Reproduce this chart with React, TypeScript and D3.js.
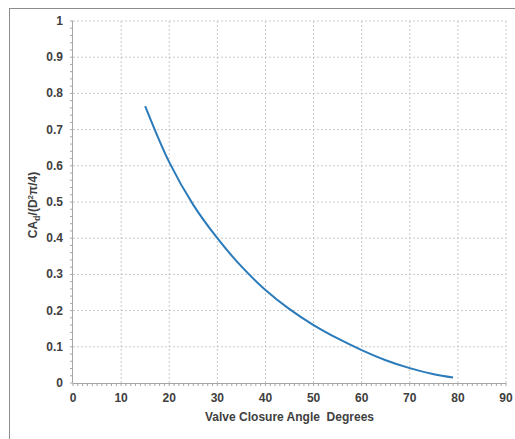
import React from "react";
import * as d3 from "d3";

// valve closure angle (degrees) vs CAd/(D²π/4)
const angles = [15, 20, 25, 30, 35, 40, 45, 50, 55, 60, 65, 70, 75, 79];
const ratios = [0.765, 0.61, 0.492, 0.4, 0.322, 0.257, 0.204, 0.16, 0.123, 0.091, 0.063, 0.041, 0.024, 0.015];
const xTicks = [0, 10, 20, 30, 40, 50, 60, 70, 80, 90];
const yTicks = [0, 0.1, 0.2, 0.3, 0.4, 0.5, 0.6, 0.7, 0.8, 0.9, 1];

const W = 515;
const H = 439;
const margin = { top: 21, right: 9, bottom: 56, left: 73 };
const font = "'Liberation Sans', Arial, sans-serif";
const tickColor = "#404040";

export default function App() {
  const x = d3.scaleLinear().domain([0, 90]).range([margin.left, W - margin.right]);
  const y = d3.scaleLinear().domain([0, 1]).range([H - margin.bottom, margin.top]);

  const pts = angles.map((a, i) => [a, ratios[i]] as [number, number]);
  const line = d3.line<[number, number]>()
    .x(d => x(d[0]))
    .y(d => y(d[1]))
    .curve(d3.curveCatmullRom.alpha(0.5));

  const xMinor = d3.range(0, 91, 1);
  const yMinor = d3.range(0, 1.001, 0.02);
  const x0 = x(0);
  const y0 = y(0);

  return (
    <svg width={W} height={H} style={{ position: "absolute", left: 0, top: 0 }}>
      <rect x={0} y={0} width={W} height={H} fill="#fff" />
      {/* outer chart frame */}
      <rect x={9.5} y={8.5} width={W} height={H} fill="none" stroke="#8c8c8c" strokeWidth={1} />

      {/* grid */}
      {xTicks.filter(t => t > 0).map(t => (
        <line key={"gx" + t} x1={x(t)} x2={x(t)} y1={y(1)} y2={y0}
          stroke="#c8c8c8" strokeDasharray="2,2" />
      ))}
      {yTicks.filter(t => t > 0).map(t => (
        <line key={"gy" + t} x1={x0} x2={x(90)} y1={y(t)} y2={y(t)}
          stroke="#c8c8c8" strokeDasharray="2,2" />
      ))}

      {/* axes */}
      <line x1={x0} x2={x(90)} y1={y0 + 0.5} y2={y0 + 0.5} stroke="#a6a6a6" />
      <line x1={x0 - 0.5} x2={x0 - 0.5} y1={y(1)} y2={y0} stroke="#a6a6a6" />
      {xMinor.map(t => (
        <line key={"mx" + t} x1={x(t)} x2={x(t)} y1={y0} y2={y0 + 3} stroke="#a6a6a6" />
      ))}
      {yMinor.map(t => (
        <line key={"my" + t} x1={x0 - 3} x2={x0} y1={y(t)} y2={y(t)} stroke="#a6a6a6" />
      ))}

      {/* tick labels */}
      {xTicks.map(t => (
        <text key={"tx" + t} x={x(t)} y={y0 + 19} textAnchor="middle"
          fontFamily={font} fontWeight="bold" fontSize={12} fill={tickColor}>{t}</text>
      ))}
      {yTicks.map(t => (
        <text key={"ty" + t} x={x0 - 10} y={y(t) + 4} textAnchor="end"
          fontFamily={font} fontWeight="bold" fontSize={12} fill={tickColor}>{t}</text>
      ))}

      {/* curve */}
      <path d={line(pts) || ""} fill="none" stroke="#2b7bba" strokeWidth={2} />

      {/* axis titles */}
      <text x={(x0 + x(90)) / 2} y={421} textAnchor="middle" style={{ whiteSpace: "pre" }}
        fontFamily={font} fontWeight="bold" fontSize={12} fill={tickColor}>
        {"Valve Closure Angle  Degrees"}
      </text>
      <text transform={`translate(37,${(y(0) + y(1)) / 2 + 3}) rotate(-90)`} textAnchor="middle"
        fontFamily={font} fontWeight="bold" fontSize={12} fill={tickColor}>
        CA<tspan fontSize={9} dy={3}>d</tspan><tspan dy={-3}>/(D</tspan>
        <tspan fontSize={8} dy={-4}>2</tspan><tspan dy={4}>π/4)</tspan>
      </text>
    </svg>
  );
}
